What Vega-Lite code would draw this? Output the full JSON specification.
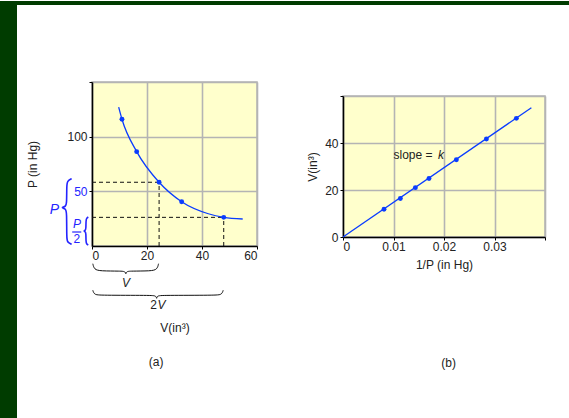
{
  "$schema": "https://vega.github.io/schema/vega-lite/v6.json",
  "background": "white",
  "padding": 0,
  "config": {"font": "Liberation Sans", "view": {"stroke": null}},
  "spacing": 0,
  "bounds": "flush",
  "hconcat": [
    {"width": 17, "height": 418, "view": {"fill": "#003c00", "stroke": null}, "data": {"values": [{}]}, "mark": {"type": "point", "opacity": 0}},
    {
      "spacing": 0,
      "bounds": "flush",
      "vconcat": [
        {"width": 552, "height": 4, "view": {"fill": "#003c00", "stroke": null}, "data": {"values": [{}]}, "mark": {"type": "point", "opacity": 0}},
        {
          "spacing": 0,
          "bounds": "flush",
          "hconcat": [
            {"width": 75, "height": 1, "data": {"values": [{}]}, "mark": {"type": "point", "opacity": 0}},
            {
              "spacing": 0,
              "bounds": "flush",
              "vconcat": [
                {"width": 165, "height": 77, "data": {"values": [{}]}, "mark": {"type": "point", "opacity": 0}},
                {
                  "width": 165,
                  "height": 164,
                  "view": {"fill": "#ffffcc", "stroke": "#b4b4b4", "strokeWidth": 1.5},
                  "encoding": {
                    "x": {"field": "x", "type": "quantitative", "scale": {"domain": [0, 60], "nice": false},
                      "axis": {"values": [0, 20, 40, 60], "grid": true, "gridColor": "#b4b4b4", "gridWidth": 1.6, "domainColor": "#000", "domainWidth": 1.5, "tickColor": "#000", "tickSize": 3, "labelFontSize": 12, "labelColor": "#222", "labelPadding": 1, "title": "V(in³)", "titleFontSize": 12, "titleFontWeight": "normal", "titleColor": "#222", "titlePadding": 61}},
                    "y": {"field": "y", "type": "quantitative", "scale": {"domain": [0, 150], "nice": false},
                      "axis": {"values": [50, 100, 150], "labelExpr": "datum.value == 150 ? '' : datum.label", "grid": true, "gridColor": "#b4b4b4", "gridWidth": 1.6, "domainColor": "#000", "domainWidth": 1.5, "tickColor": "#000", "tickSize": 3, "labelFontSize": 12, "labelColor": {"condition": {"test": "datum.value == 50", "value": "#2424ff"}, "value": "#222"}, "labelPadding": 2, "title": "P (in Hg)", "titleFontSize": 12, "titleFontWeight": "normal", "titleColor": "#222", "titlePadding": 27}}
                  },
                  "layer": [
                    {"data": {"values": [
                      {"x": 0, "x2": 24.4, "y": 58.3, "y2": 58.3},
                      {"x": 24.4, "x2": 24.4, "y": 0, "y2": 58.3},
                      {"x": 0, "x2": 47.9, "y": 26.2, "y2": 26.2},
                      {"x": 47.9, "x2": 47.9, "y": 0, "y2": 26.2}
                    ]}, "mark": {"type": "rule", "strokeDash": [4, 3], "color": "#111", "strokeWidth": 1},
                     "encoding": {"x2": {"field": "x2"}, "y2": {"field": "y2"}}},
                    {"data": {"values": [
                      {"x": 9.7, "y": 127}, {"x": 10.9, "y": 115.9}, {"x": 16.25, "y": 86.3}, {"x": 24.4, "y": 58.3},
                      {"x": 32.6, "y": 40.5}, {"x": 42.3, "y": 29.5}, {"x": 47.9, "y": 26.2}, {"x": 54.8, "y": 24.7}
                    ]}, "mark": {"type": "line", "color": "#0a3cff", "strokeWidth": 1.3, "interpolate": "monotone"}},
                    {"data": {"values": [
                      {"x": 10.9, "y": 115.9}, {"x": 16.25, "y": 86.3}, {"x": 24.4, "y": 58.3}, {"x": 32.6, "y": 40.5}, {"x": 47.9, "y": 26.2}
                    ]}, "mark": {"type": "point", "filled": true, "size": 24, "color": "#0a3cff", "opacity": 1}},
                    {"data": {"values": [
                      {"b": "V", "k": 1, "x": 0.3, "y": -16.2}, {"b": "V", "k": 2, "x": 0.8, "y": -21.5}, {"b": "V", "k": 3, "x": 3, "y": -22.9},
                      {"b": "V", "k": 4, "x": 10.5, "y": -22.9}, {"b": "V", "k": 5, "x": 12.2, "y": -23.3}, {"b": "V", "k": 6, "x": 12.3, "y": -26.5},
                      {"b": "V", "k": 7, "x": 12.4, "y": -23.3}, {"b": "V", "k": 8, "x": 14, "y": -22.9}, {"b": "V", "k": 9, "x": 21.5, "y": -22.9},
                      {"b": "V", "k": 10, "x": 23.7, "y": -21.5}, {"b": "V", "k": 11, "x": 24.2, "y": -16.2},
                      {"b": "2V", "k": 1, "x": 0.3, "y": -40.5}, {"b": "2V", "k": 2, "x": 0.8, "y": -44.5}, {"b": "2V", "k": 3, "x": 3, "y": -45.1},
                      {"b": "2V", "k": 4, "x": 21.5, "y": -45.1}, {"b": "2V", "k": 5, "x": 23.4, "y": -45.5}, {"b": "2V", "k": 6, "x": 23.5, "y": -49},
                      {"b": "2V", "k": 7, "x": 23.6, "y": -45.5}, {"b": "2V", "k": 8, "x": 25.5, "y": -45.1}, {"b": "2V", "k": 9, "x": 45, "y": -45.1},
                      {"b": "2V", "k": 10, "x": 47.2, "y": -44.5}, {"b": "2V", "k": 11, "x": 47.7, "y": -40.5}
                    ]}, "mark": {"type": "line", "interpolate": "basis", "color": "#111", "strokeWidth": 1, "clip": false},
                     "encoding": {"detail": {"field": "b"}, "order": {"field": "k"}}},
                    {"data": {"values": [
                      {"b": "P", "k": 1, "x": -7.4, "y": 61.6}, {"b": "P", "k": 2, "x": -9.0, "y": 59.5}, {"b": "P", "k": 3, "x": -9.2, "y": 55},
                      {"b": "P", "k": 4, "x": -9.2, "y": 39}, {"b": "P", "k": 5, "x": -9.5, "y": 36}, {"b": "P", "k": 6, "x": -11.4, "y": 35.1},
                      {"b": "P", "k": 7, "x": -9.5, "y": 34.2}, {"b": "P", "k": 8, "x": -9.2, "y": 31}, {"b": "P", "k": 9, "x": -9.2, "y": 7},
                      {"b": "P", "k": 10, "x": -9.0, "y": 3.5}, {"b": "P", "k": 11, "x": -7.4, "y": 1.6},
                      {"b": "P2", "k": 1, "x": -1.35, "y": 26.5}, {"b": "P2", "k": 2, "x": -2.0, "y": 25.5}, {"b": "P2", "k": 3, "x": -2.2, "y": 23},
                      {"b": "P2", "k": 4, "x": -2.2, "y": 16}, {"b": "P2", "k": 5, "x": -2.4, "y": 14.3}, {"b": "P2", "k": 6, "x": -3.1, "y": 13.7},
                      {"b": "P2", "k": 7, "x": -2.4, "y": 13.1}, {"b": "P2", "k": 8, "x": -2.2, "y": 11.4}, {"b": "P2", "k": 9, "x": -2.2, "y": 4},
                      {"b": "P2", "k": 10, "x": -2.0, "y": 1.9}, {"b": "P2", "k": 11, "x": -1.35, "y": 0.9}
                    ]}, "mark": {"type": "line", "interpolate": "basis", "color": "#2424ff", "strokeWidth": 1.6, "clip": false},
                     "encoding": {"detail": {"field": "b"}, "order": {"field": "k"}}},
                    {"data": {"values": [{"x": -7.2, "x2": -3.9, "y": 12.8}]},
                     "mark": {"type": "rule", "color": "#2424ff", "strokeWidth": 1.2, "clip": false},
                     "encoding": {"x2": {"field": "x2"}}},
                    {"data": {"values": [{"x": -13.7, "y": 33, "t": "P"}]},
                     "mark": {"type": "text", "color": "#2424ff", "fontSize": 14, "fontStyle": "italic", "clip": false},
                     "encoding": {"text": {"field": "t"}}},
                    {"data": {"values": [{"x": -5.5, "y": 19.8, "t": "P"}]},
                     "mark": {"type": "text", "color": "#2424ff", "fontSize": 12, "fontStyle": "italic", "clip": false},
                     "encoding": {"text": {"field": "t"}}},
                    {"data": {"values": [{"x": -5.5, "y": 6.8, "t": "2"}]},
                     "mark": {"type": "text", "color": "#2424ff", "fontSize": 12, "clip": false},
                     "encoding": {"text": {"field": "t"}}},
                    {"data": {"values": [{"x": 12.4, "y": -33.6, "t": "V"}, {"x": 25.3, "y": -54, "t": "V"}]},
                     "mark": {"type": "text", "color": "#222", "fontSize": 12, "fontStyle": "italic", "clip": false},
                     "encoding": {"text": {"field": "t"}}},
                    {"data": {"values": [{"x": 22.4, "y": -54, "t": "2"}, {"x": 23.3, "y": -106, "t": "(a)"}]},
                     "mark": {"type": "text", "color": "#222", "fontSize": 12, "clip": false},
                     "encoding": {"text": {"field": "t"}}}
                  ]
                }
              ]
            },
            {"width": 251, "height": 1, "data": {"values": [{}]}, "mark": {"type": "point", "opacity": 0}},
            {
              "spacing": 0,
              "bounds": "flush",
              "vconcat": [
                {"width": 202, "height": 91, "data": {"values": [{}]}, "mark": {"type": "point", "opacity": 0}},
                {
                  "width": 202,
                  "height": 141,
                  "view": {"fill": "#ffffcc", "stroke": "#b4b4b4", "strokeWidth": 1.5},
                  "encoding": {
                    "x": {"field": "x", "type": "quantitative", "scale": {"domain": [0, 0.04], "nice": false},
                      "axis": {"values": [0, 0.01, 0.02, 0.03, 0.04], "format": "~g", "labelExpr": "datum.value >= 0.039 ? '' : datum.label", "grid": true, "gridColor": "#b4b4b4", "gridWidth": 1.6, "domainColor": "#000", "domainWidth": 1.5, "tickColor": "#000", "tickSize": 3, "labelFontSize": 12, "labelColor": "#222", "labelPadding": 1, "title": "1/P (in Hg)", "titleFontSize": 12, "titleFontWeight": "normal", "titleColor": "#222", "titlePadding": 7}},
                    "y": {"field": "y", "type": "quantitative", "scale": {"domain": [0, 60], "nice": false},
                      "axis": {"values": [0, 20, 40, 60], "labelExpr": "datum.value == 60 ? '' : datum.label", "grid": true, "gridColor": "#b4b4b4", "gridWidth": 1.6, "domainColor": "#000", "domainWidth": 1.5, "tickColor": "#000", "tickSize": 3, "labelFontSize": 12, "labelColor": "#222", "labelPadding": 2, "title": "V(in³)", "titleFontSize": 12, "titleFontWeight": "normal", "titleColor": "#222", "titlePadding": 5}}
                  },
                  "layer": [
                    {"data": {"values": [{"x": 0, "y": 0}, {"x": 0.0373, "y": 55}]},
                     "mark": {"type": "line", "color": "#0a3cff", "strokeWidth": 1.3}},
                    {"data": {"values": [
                      {"x": 0.00812, "y": 11.8}, {"x": 0.01136, "y": 16.4}, {"x": 0.01433, "y": 21.0}, {"x": 0.01703, "y": 24.9},
                      {"x": 0.02245, "y": 32.9}, {"x": 0.0284, "y": 41.7}, {"x": 0.03433, "y": 50.5}
                    ]}, "mark": {"type": "point", "filled": true, "size": 24, "color": "#0a3cff", "opacity": 1}},
                    {"data": {"values": [{"x": 0.01, "y": 34.9, "t": "slope ="}]},
                     "mark": {"type": "text", "align": "left", "color": "#222", "fontSize": 12, "clip": false},
                     "encoding": {"text": {"field": "t"}}},
                    {"data": {"values": [{"x": 0.0188, "y": 34.9, "t": "k"}]},
                     "mark": {"type": "text", "align": "left", "color": "#222", "fontSize": 12, "fontStyle": "italic", "clip": false},
                     "encoding": {"text": {"field": "t"}}},
                    {"data": {"values": [{"x": 0.0209, "y": -53.5, "t": "(b)"}]},
                     "mark": {"type": "text", "color": "#222", "fontSize": 12, "clip": false},
                     "encoding": {"text": {"field": "t"}}}
                  ]
                }
              ]
            }
          ]
        }
      ]
    }
  ]
}
